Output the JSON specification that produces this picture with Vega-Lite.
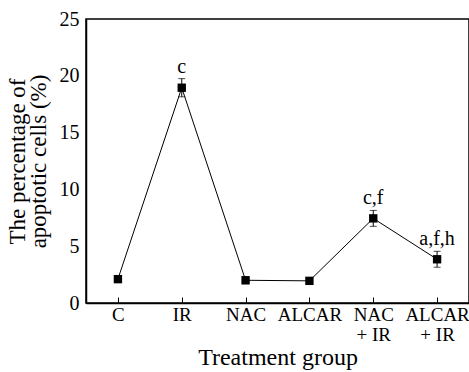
{
  "$schema": "https://vega.github.io/schema/vega-lite/v6.json",
  "autosize": {"type": "none"},
  "width": 383,
  "height": 284,
  "padding": {"left": 86, "top": 19, "right": 0, "bottom": 69},
  "background": "white",
  "config": {
    "view": {"stroke": "black", "strokeWidth": 1.5},
    "font": "Liberation Serif",
    "style": {"guide-label": {"font": "Liberation Serif"}, "guide-title": {"font": "Liberation Serif"}},
    "axis": {
      "grid": false,
      "domainColor": "black",
      "domainWidth": 1.5,
      "tickColor": "black",
      "labelColor": "black",
      "titleColor": "black",
      "labelFont": "Liberation Serif",
      "titleFont": "Liberation Serif",
      "titleFontWeight": "normal"
    }
  },
  "data": {
    "values": [
      {"group": "C", "value": 2.1, "lo": 1.8, "hi": 2.4, "sig": ""},
      {"group": "IR", "value": 18.95, "lo": 18.15, "hi": 19.75, "sig": "c"},
      {"group": "NAC", "value": 2.0, "lo": 1.7, "hi": 2.3, "sig": ""},
      {"group": "ALCAR", "value": 1.95, "lo": 1.7, "hi": 2.2, "sig": ""},
      {"group": "NAC|+ IR", "value": 7.45, "lo": 6.75, "hi": 8.15, "sig": "c,f"},
      {"group": "ALCAR|+ IR", "value": 3.85, "lo": 3.15, "hi": 4.55, "sig": "a,f,h"}
    ]
  },
  "encoding": {
    "x": {
      "field": "group",
      "type": "nominal",
      "sort": null,
      "scale": {"type": "point", "padding": 0.5},
      "axis": {
        "title": "Treatment group",
        "titleFont": "Liberation Serif",
        "titleFontSize": 24,
        "titlePadding": 1,
        "labelFont": "Liberation Serif",
        "labelAngle": 0,
        "labelFontSize": 19,
        "labelLineHeight": 20,
        "labelExpr": "split(datum.label, '|')",
        "tickSize": -6,
        "tickWidth": 1,
        "labelPadding": 8
      }
    }
  },
  "layer": [
    {
      "mark": {"type": "line", "color": "black", "strokeWidth": 1},
      "encoding": {
        "y": {
          "field": "value",
          "type": "quantitative",
          "scale": {"domain": [0, 25], "padding": 0, "nice": false, "zero": true},
          "axis": {
            "title": ["The percentage of", "apoptotic cells (%)"],
            "titleFont": "Liberation Serif",
            "titleFontSize": 23,
            "titleLineHeight": 21,
            "titlePadding": 9,
            "values": [0, 5, 10, 15, 20, 25],
            "labelFont": "Liberation Serif",
            "labelFontSize": 20,
            "ticks": false,
            "labelPadding": 7
          }
        }
      }
    },
    {
      "mark": {"type": "rule", "color": "black", "strokeWidth": 1},
      "encoding": {
        "y": {"field": "lo", "type": "quantitative"},
        "y2": {"field": "hi"}
      }
    },
    {
      "mark": {"type": "tick", "color": "black", "thickness": 1, "size": 7},
      "encoding": {"y": {"field": "hi", "type": "quantitative"}}
    },
    {
      "mark": {"type": "tick", "color": "black", "thickness": 1, "size": 7},
      "encoding": {"y": {"field": "lo", "type": "quantitative"}}
    },
    {
      "mark": {"type": "point", "shape": "square", "filled": true, "color": "black", "opacity": 1, "size": 70},
      "encoding": {"y": {"field": "value", "type": "quantitative"}}
    },
    {
      "mark": {"type": "text", "baseline": "bottom", "dy": -2, "fontSize": 20, "font": "Liberation Serif", "color": "black"},
      "encoding": {
        "y": {"field": "hi", "type": "quantitative"},
        "text": {"field": "sig"}
      }
    }
  ]
}
